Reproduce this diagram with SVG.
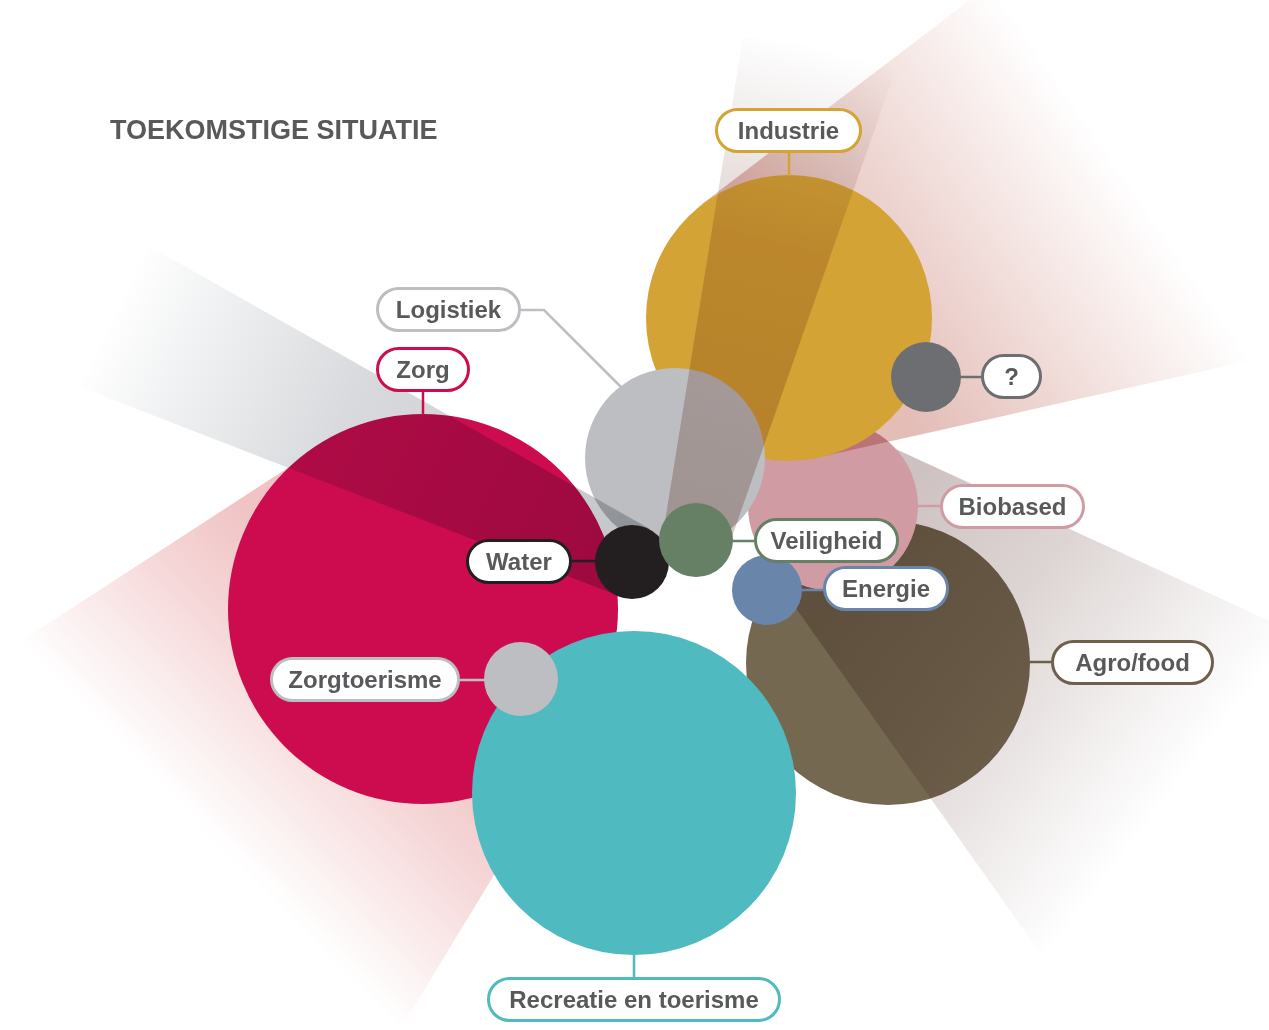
<svg xmlns="http://www.w3.org/2000/svg" width="1269" height="1030" viewBox="0 0 1269 1030">
<defs>
<style>
.lbl rect { fill:#ffffff; stroke-width:3; }
.lbl text { font-family:"Liberation Sans", Arial, sans-serif; font-weight:bold; font-size:24px; fill:#58595b; text-anchor:middle; }
.mult { mix-blend-mode:multiply; }
#connectors line, #connectors polyline { fill:none; stroke-width:2.5; }
.title { font-family:"Liberation Sans", Arial, sans-serif; font-weight:bold; font-size:27px; fill:#58595b; }
</style>
<linearGradient id="gU" gradientUnits="userSpaceOnUse" x1="696" y1="540" x2="822" y2="47">
<stop offset="0" stop-color="#d9c6c0"/><stop offset="0.6" stop-color="#e3d4d0"/><stop offset="0.8" stop-color="#eeeae9"/><stop offset="1" stop-color="#ffffff"/>
</linearGradient>
<linearGradient id="gPR" gradientUnits="userSpaceOnUse" x1="850" y1="330" x2="1108" y2="151">
<stop offset="0" stop-color="#e4bdb7"/><stop offset="1" stop-color="#ffffff"/>
</linearGradient>
<linearGradient id="gLL" gradientUnits="userSpaceOnUse" x1="300" y1="560" x2="116" y2="741">
<stop offset="0" stop-color="#f0c3c4"/><stop offset="0.35" stop-color="#f5d5d6"/><stop offset="1" stop-color="#ffffff"/>
</linearGradient>
<linearGradient id="gLR" gradientUnits="userSpaceOnUse" x1="880" y1="520" x2="1196" y2="762">
<stop offset="0" stop-color="#cdc2c1"/><stop offset="0.4" stop-color="#ddd5d4"/><stop offset="1" stop-color="#ffffff"/>
</linearGradient>
<linearGradient id="gGL" gradientUnits="userSpaceOnUse" x1="620" y1="565" x2="110" y2="315">
<stop offset="0" stop-color="#c4c6ca"/><stop offset="0.55" stop-color="#d8dadd"/><stop offset="0.85" stop-color="#f1f2f3"/><stop offset="1" stop-color="#ffffff"/>
</linearGradient>
</defs>

<rect x="0" y="0" width="1269" height="1030" fill="#ffffff"/>

<text class="title" x="110" y="139">TOEKOMSTIGE SITUATIE</text>

<g id="shapes">
<path id="beam-ll" d="M300,460 L15,645 L397,1035 L497,870 L440,700 Z" fill="url(#gLL)"/>
<circle id="circle-agrofood" cx="888" cy="663" r="142" fill="#756851"/>
<path id="beam-lr" class="mult" d="M887,445 L1285,628 L1290,650 L1045,960 L783,590 L815,520 Z" fill="url(#gLR)"/>
<circle id="circle-biobased" cx="833" cy="506" r="85" fill="#d19ba4"/>
<path id="beam-pr" class="mult" d="M702,204 L970,0 L1004,0 L1253,360 L820,457 L789,318 Z" fill="url(#gPR)"/>
<circle id="circle-industrie" cx="789" cy="318" r="143" fill="#d3a336"/>
<circle id="circle-logistiek" cx="675" cy="458" r="90" fill="#bcbec1"/>
<path id="beam-u" class="mult" d="M743,37 L900,57 L727,551 L696,540 L663,534 Z" fill="url(#gU)"/>
<circle id="circle-zorg" cx="423" cy="609" r="195" fill="#cc0c4f"/>
<circle id="circle-recreatie" cx="634" cy="793" r="162" fill="#4fbac0"/>
<path id="beam-gl" class="mult" d="M147,245 L650,529 L632,562 L619,596 L80,387 Z" fill="url(#gGL)"/>
<circle id="circle-zorgtoerisme" cx="521" cy="679" r="37" fill="#bcbec1"/>
<circle id="circle-water" cx="632" cy="562" r="37" fill="#231f20"/>
<circle id="circle-veiligheid" cx="696" cy="540" r="37" fill="#668065"/>
<circle id="circle-energie" cx="767" cy="590" r="35" fill="#6a85aa"/>
<circle id="circle-vraag" cx="926" cy="377" r="35" fill="#6d6e71"/>
</g>

<g id="connectors">
<line x1="789" y1="153" x2="789" y2="176" stroke="#d3a336"/>
<polyline points="521,310 544,310 622,388" stroke="#bcbec1"/>
<line x1="423" y1="392" x2="423" y2="415" stroke="#cc0c4f"/>
<line x1="960" y1="377" x2="982" y2="377" stroke="#6d6e71"/>
<line x1="917" y1="506" x2="941" y2="506" stroke="#d19ba4"/>
<line x1="732" y1="541" x2="755" y2="541" stroke="#668065"/>
<line x1="568" y1="561" x2="596" y2="561" stroke="#231f20"/>
<line x1="801" y1="590" x2="824" y2="590" stroke="#6a85aa"/>
<line x1="1029" y1="662" x2="1052" y2="662" stroke="#6e604c"/>
<line x1="459" y1="680" x2="485" y2="680" stroke="#bcbec1"/>
<line x1="634" y1="954" x2="634" y2="978" stroke="#4fbac0"/>
</g>

<g id="node-industrie" class="lbl"><rect x="716.5" y="109.5" width="144" height="42" rx="21" stroke="#d3a336"/><text x="788.5" y="139">Industrie</text></g>
<g id="node-logistiek" class="lbl"><rect x="377.5" y="288.5" width="142" height="42" rx="21" stroke="#bcbec1"/><text x="448.5" y="318">Logistiek</text></g>
<g id="node-zorg" class="lbl"><rect x="377.5" y="348.5" width="91" height="42" rx="21" stroke="#cc0c4f"/><text x="423" y="378">Zorg</text></g>
<g id="node-vraag" class="lbl"><rect x="982.5" y="355.5" width="58" height="42" rx="21" stroke="#6d6e71"/><text x="1011.5" y="385">?</text></g>
<g id="node-biobased" class="lbl"><rect x="941.5" y="485.5" width="142" height="42" rx="21" stroke="#d19ba4"/><text x="1012.5" y="515">Biobased</text></g>
<g id="node-veiligheid" class="lbl"><rect x="755.5" y="519.5" width="142" height="42" rx="21" stroke="#668065"/><text x="826.5" y="549">Veiligheid</text></g>
<g id="node-water" class="lbl"><rect x="467.5" y="540.5" width="103" height="42" rx="21" stroke="#231f20"/><text x="519" y="570">Water</text></g>
<g id="node-energie" class="lbl"><rect x="824.5" y="567.5" width="123" height="42" rx="21" stroke="#6a85aa"/><text x="886" y="597">Energie</text></g>
<g id="node-agrofood" class="lbl"><rect x="1052.5" y="641.5" width="160" height="42" rx="21" stroke="#6e604c"/><text x="1132.5" y="671">Agro/food</text></g>
<g id="node-zorgtoerisme" class="lbl"><rect x="271.5" y="658.5" width="187" height="42" rx="21" stroke="#bcbec1"/><text x="365" y="688">Zorgtoerisme</text></g>
<g id="node-recreatie" class="lbl"><rect x="488.5" y="978.5" width="291" height="42" rx="21" stroke="#4fbac0"/><text x="634" y="1008">Recreatie en toerisme</text></g>
</svg>
